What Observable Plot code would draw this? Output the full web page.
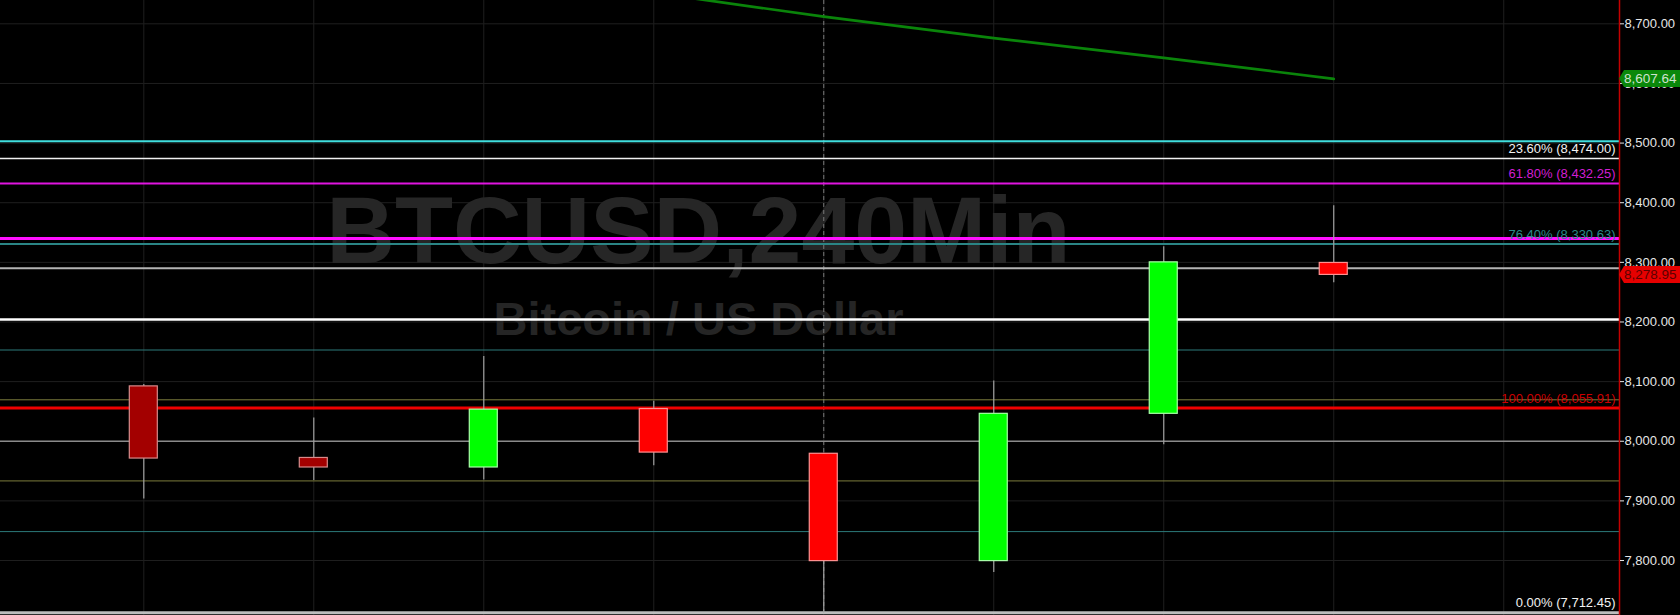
<!DOCTYPE html>
<html><head><meta charset="utf-8">
<script src="https://cdn.jsdelivr.net/npm/d3@7"></script>
<script src="https://cdn.jsdelivr.net/npm/@observablehq/plot@0.6"></script>
<style>
html,body{margin:0;padding:0;background:#000;}
#chart{width:1680px;height:615px;overflow:hidden;background:#000;}
</style></head><body><div id="chart"></div>
<script>
// ---- data ----
const candleIndex = [0, 1, 2, 3, 4, 5, 6, 7];
const opens  = [8092, 7972, 7956, 8054, 7979, 7799, 8046, 8299];
const highs  = [8095, 8039, 8142, 8067, 7980, 8101, 8326, 8395];
const lows   = [7903, 7934, 7935, 7959, 7712, 7780, 7994, 8266];
const closes = [7971, 7956, 8053, 7981, 7799, 8046, 8300, 8278.95];
const candleKind = ["weakDown", "weakDown", "up", "down", "down", "up", "up", "down"];

const maIndex  = [3, 4, 5, 6, 7];
const maValues = [8752, 8712, 8676, 8643, 8607.64];

const levelValues = [8503, 8474, 8432.25, 8340, 8330.63, 8290, 8204, 8153, 8069.5, 8055.91, 8000, 7933.5, 7848.5, 7712.45];
const levelKind   = ["cyan", "white", "magenta", "magentaBold", "teal", "silver", "whiteBold", "tealThin", "olive", "red", "gray", "olive", "tealThin", "silverBold"];

const fibLabels = ["23.60% (8,474.00)", "61.80% (8,432.25)", "76.40% (8,330.63)", "100.00% (8,055.91)", "0.00% (7,712.45)"];
const fibValues = [8474, 8432.25, 8330.63, 8055.91, 7712.45];
const fibKind   = ["white", "magenta", "teal", "red", "white"];

const yTicks = [7800, 7900, 8000, 8100, 8200, 8300, 8400, 8500, 8600, 8700];
const gridIndex = [0, 1, 2, 3, 4, 5, 6, 7, 8];
const crosshairIndex = [4];

const lastMA = 8607.64;
const lastClose = 8278.95;
const title = "BTCUSD,240Min";
const subtitle = "Bitcoin / US Dollar";

// ---- styles ----
const levelStyle = {
  cyan: {stroke: "#3fdede", w: 2},
  white: {stroke: "#f0f0f0", w: 1.5},
  magenta: {stroke: "#e014e0", w: 2},
  magentaBold: {stroke: "#ff10ff", w: 3},
  teal: {stroke: "#2a8585", w: 2},
  silver: {stroke: "#b4b4b4", w: 2},
  whiteBold: {stroke: "#ffffff", w: 2.5},
  tealThin: {stroke: "#2c7a7a", w: 1},
  olive: {stroke: "#7c7c3c", w: 1},
  red: {stroke: "#ee0000", w: 3},
  gray: {stroke: "#8a8a8a", w: 1.5},
  silverBold: {stroke: "#bdbdbd", w: 3}
};
const fibColor = {white: "#f2f2f2", magenta: "#d21ed2", teal: "#2b8a8a", red: "#cc0000"};
const candleFill = {weakDown: "#a30000", down: "#ff0000", up: "#00ff00"};
const candleBorder = {weakDown: "#d88a8a", down: "#ff9090", up: "#a8ffa8"};

const W = 1680, H = 615, mR = 61;
const xDomain = [-0.843, 8.681];
const yDomain = [7707.8, 8739.1];
const pxPerIndex = (W - mR) / (xDomain[1] - xDomain[0]);
const halfBody = 14 / pxPerIndex;
const font = "Liberation Sans, Arial, sans-serif";

const candles = candleIndex.map((i, k) => ({
  i, open: opens[k], high: highs[k], low: lows[k], close: closes[k], kind: candleKind[k]
}));
const levels = levelValues.map((v, k) => ({v, kind: levelKind[k]}));
const fibs = fibValues.map((v, k) => ({v, label: fibLabels[k], kind: fibKind[k]}));
const ma = maIndex.map((i, k) => ({i, v: maValues[k]}));

const plot = Plot.plot({
  width: W, height: H,
  marginLeft: 0, marginRight: mR, marginTop: 0, marginBottom: 0,
  style: {background: "#000", color: "#e6e6e6", fontFamily: font, overflow: "visible"},
  x: {domain: xDomain, axis: null},
  y: {domain: yDomain, axis: null},
  marks: [
    Plot.ruleY(yTicks, {stroke: "#1f1f1f", strokeWidth: 1}),
    Plot.ruleX(gridIndex, {stroke: "#1f1f1f", strokeWidth: 1}),
    Plot.text([title], {frameAnchor: "top-left", dx: 698, dy: 232, textAnchor: "middle", lineAnchor: "middle",
      fontSize: 95, fontWeight: "bold", fill: "#262626", fontFamily: font}),
    Plot.text([subtitle], {frameAnchor: "top-left", dx: 698, dy: 319, textAnchor: "middle", lineAnchor: "middle",
      fontSize: 47, fontWeight: "bold", fill: "#252525", fontFamily: font}),
    Plot.ruleX(crosshairIndex, {stroke: "#7a7a7a", strokeWidth: 1, strokeDasharray: "4,3"}),
    Plot.ruleY(levels, {y: "v", stroke: d => levelStyle[d.kind].stroke, strokeWidth: d => levelStyle[d.kind].w}),
    Plot.line(ma, {x: "i", y: "v", stroke: "#0a840a", strokeWidth: 2.7, clip: true}),
    Plot.text(fibs, {y: "v", text: "label", frameAnchor: "right", textAnchor: "end", dx: -4, dy: -9.5,
      fill: d => fibColor[d.kind], fontSize: 13, fontFamily: font}),
    Plot.ruleX(candles, {x: "i", y1: "low", y2: "high", stroke: "#a0a0a0", strokeWidth: 1.2}),
    Plot.rect(candles, {
      x1: d => d.i - halfBody, x2: d => d.i + halfBody,
      y1: d => Math.min(d.open, d.close), y2: d => Math.max(d.open, d.close),
      fill: d => candleFill[d.kind], stroke: d => candleBorder[d.kind], strokeWidth: 1.2
    }),
    Plot.ruleX([xDomain[1]], {stroke: "#c40000", strokeWidth: 1.5}),
    Plot.axisY(yTicks, {anchor: "right", tickFormat: d3.format(",.2f"), tickSize: 4, tickPadding: 1,
      fontSize: 13, fontFamily: font})
  ]
});

document.getElementById("chart").appendChild(plot);

// price tags on the axis, positioned with the plot's own y scale
const yScale = plot.scale("y");
const svg = d3.select(plot);
const ax = W - mR;
function tag(value, fill, textColor) {
  const yc = yScale.apply(value);
  const g = svg.append("g").attr("text-anchor", "start");
  g.append("path")
    .attr("d", `M${ax},${yc} L${ax + 5},${yc - 8.5} L${W},${yc - 8.5} L${W},${yc + 8.5} L${ax + 5},${yc + 8.5} Z`)
    .attr("fill", fill);
  g.append("text")
    .attr("x", ax + 5).attr("y", yc).attr("dy", "0.36em")
    .attr("text-anchor", "start")
    .attr("fill", textColor).attr("font-size", 13.5).attr("font-family", font)
    .text(d3.format(",.2f")(value));
}
tag(lastMA, "#0a880a", "#cfe3cf");
tag(lastClose, "#e60000", "#5c0000");
</script>
</body></html>
